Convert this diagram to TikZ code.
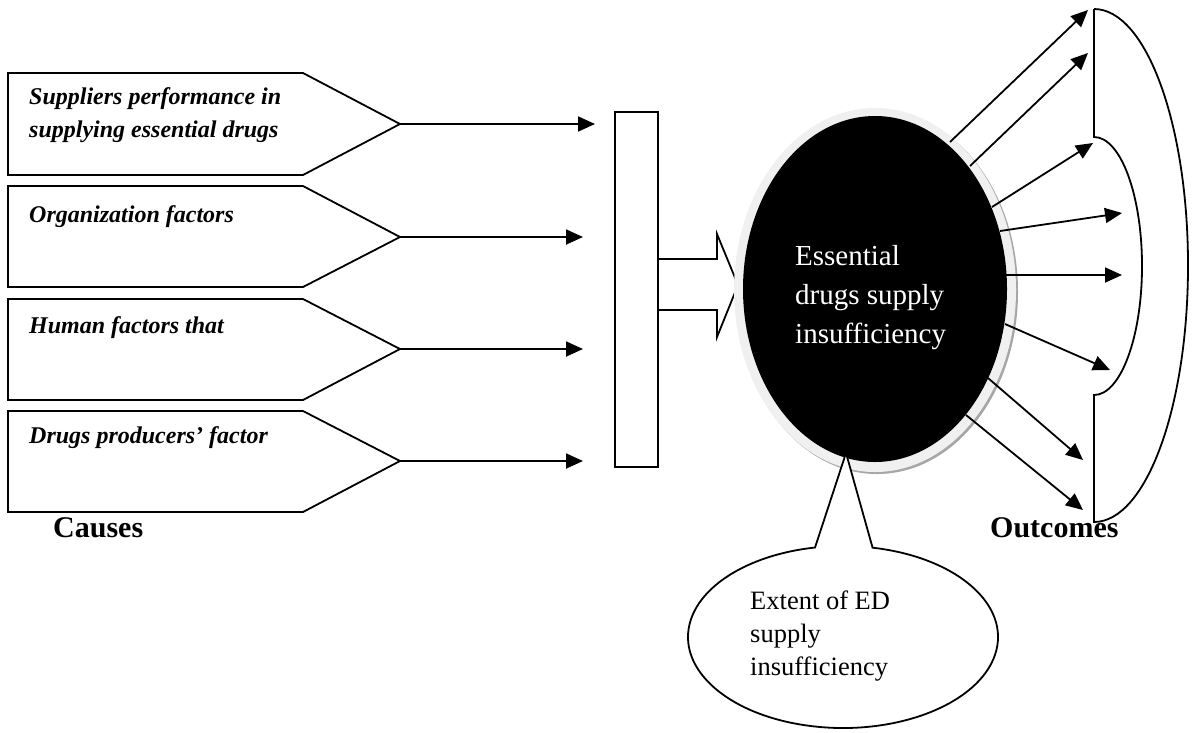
\documentclass[tikz,border=0pt]{standalone}
\usepackage{fontspec}
\setmainfont{Liberation Serif}
\usetikzlibrary{arrows.meta,shapes.geometric,calc}
\begin{document}
\begin{tikzpicture}[x=1pt,y=-1pt,
  outline/.style={draw=black,line width=1.8pt,line join=miter},
  conn/.style={line width=1.8pt,-{Triangle[length=17pt,width=15pt]}},
  causetext/.style={anchor=base west,inner sep=0pt,align=left,font=\fontsize{24}{33}\selectfont\bfseries\itshape},
  coretext/.style={anchor=base west,inner sep=0pt,align=left,text=white,font=\fontsize{29}{39}\selectfont},
  calltext/.style={anchor=base west,inner sep=0pt,align=left,font=\fontsize{26.5}{33}\selectfont},
  headtext/.style={anchor=base west,inner sep=0pt,font=\fontsize{30}{36}\selectfont\bfseries}
]
\useasboundingbox (0,0) rectangle (1193,732);

% cause boxes
\draw[outline] (8,73) -- (303,73) -- (400,124) -- (303,175) -- (8,175) -- cycle;
\draw[outline] (8,186) -- (303,186) -- (400,237) -- (303,287) -- (8,287) -- cycle;
\draw[outline] (8,299) -- (303,299) -- (400,349) -- (303,400) -- (8,400) -- cycle;
\draw[outline] (8,411) -- (303,411) -- (400,461) -- (303,512) -- (8,512) -- cycle;
\coordinate (p1) at (400,124);
\coordinate (p2) at (400,237);
\coordinate (p3) at (400,349);
\coordinate (p4) at (400,461);
\node[causetext] (c1) at (29,137) {Suppliers performance in\\supplying essential drugs};
\node[causetext] (c2) at (29,222) {Organization factors};
\node[causetext] (c3) at (29,333) {Human factors that};
\node[causetext] (c4) at (29,443) {Drugs producers’ factor};

\coordinate (t1) at (595,124);
\coordinate (t2) at (583,237);
\coordinate (t3) at (583,349);
\coordinate (t4) at (583,461);
\draw[conn] (p1) -- (t1);
\draw[conn] (p2) -- (t2);
\draw[conn] (p3) -- (t3);
\draw[conn] (p4) -- (t4);

% collecting bar
\node[outline,rectangle,inner sep=0pt,minimum width=43pt,minimum height=355pt] (bar) at (636.5,289.5) {};

% block arrow
\draw[outline] (bar.east |- 0,259) -- (717,259) -- (717,234) -- (738,285) -- (717,337) -- (717,310) -- (bar.east |- 0,310);

% core ellipse with ring
\fill[black!35] (877,292) ellipse [x radius=141, y radius=182];
\fill[black!6] (875,290) ellipse [x radius=141, y radius=182];
\node[ellipse,fill=black,inner sep=0pt,minimum width=264pt,minimum height=346pt] (core) at (875,289) {};
\node[coretext] (coret) at (795,343) {Essential\\drugs supply\\insufficiency};

% outcome arrows
\coordinate (s1) at (950,142);
\coordinate (s2) at (970,166);
\coordinate (s3) at (992,207);
\coordinate (s4) at (1000,231);
\coordinate (s5) at (1005,275);
\coordinate (s6) at (1005,324);
\coordinate (s7) at (988,378);
\coordinate (s8) at (966,415);
\coordinate (e1) at (1088,10);
\coordinate (e2) at (1088,53);
\coordinate (e3) at (1093,143);
\coordinate (e4) at (1122,213);
\coordinate (e5) at (1122,275);
\coordinate (e6) at (1110,370);
\coordinate (e7) at (1083,460);
\coordinate (e8) at (1083,510);
\foreach \i in {1,...,8} { \draw[conn] (s\i) -- (e\i); }

% outcome bracket
\draw[outline] (1094,9) -- (1094,137) arc[start angle=-90, end angle=90, x radius=48, y radius=129]
  -- (1094,522) arc[start angle=90, end angle=-90, x radius=94, y radius=256.5];

% callout
\coordinate (tip) at (846,453);
\draw[outline,fill=white] (tip) -- ($(843,637)+(-79:155 and 91)$) arc[start angle=-79, end angle=259.6, x radius=155, y radius=91] -- cycle;
\node[calltext] (callt) at (750,675) {Extent of ED\\supply\\insufficiency};

% headings
\node[headtext] (causes) at (53,537) {Causes};
\node[headtext] (outcomes) at (990,537) {Outcomes};
\end{tikzpicture}
\end{document}
